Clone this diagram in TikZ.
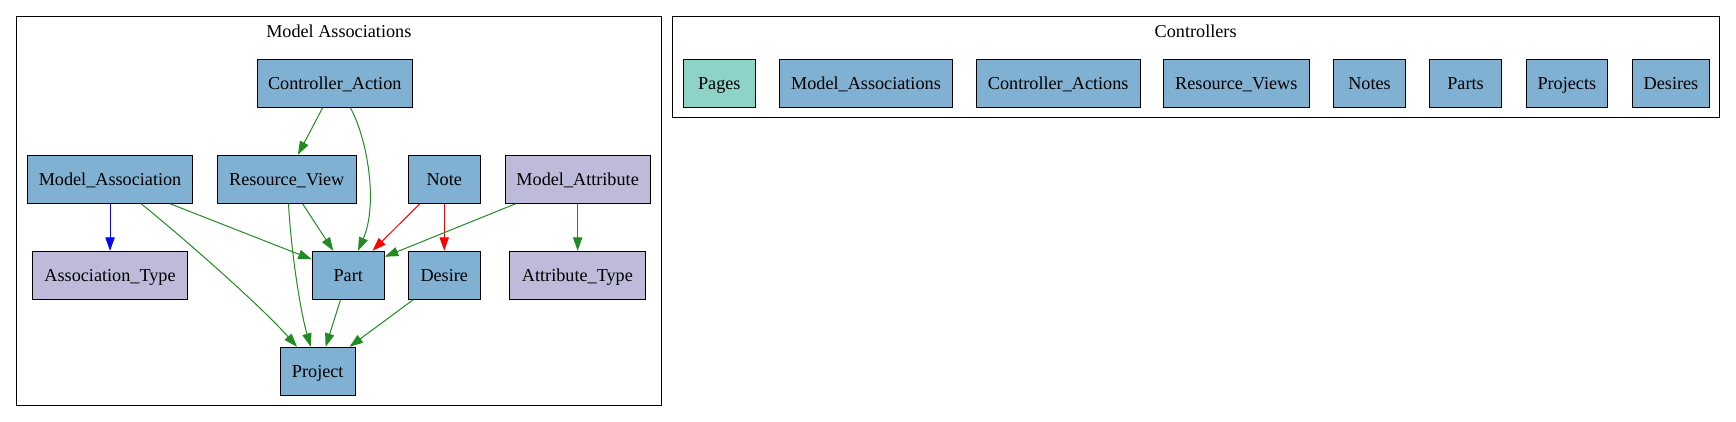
\documentclass[tikz,border=0pt]{standalone}
\usepackage{fontspec}
\setmainfont{Liberation Serif}
\usetikzlibrary{arrows.meta}
\definecolor{nblue}{HTML}{80B1D3}
\definecolor{nlav}{HTML}{BEBADA}
\definecolor{nteal}{HTML}{8DD3C7}
\definecolor{egreen}{HTML}{228B22}
\begin{document}
\begin{tikzpicture}[x=1pt,y=-1pt,
  lbl/.style={inner sep=0pt, text height=16pt, text depth=4pt, font=\fontsize{18.2}{22}\selectfont},
  box/.style={lbl, draw=black, line width=1pt, minimum height=48pt, anchor=center},
  bl/.style={box, fill=nblue},
  lv/.style={box, fill=nlav},
  tl/.style={box, fill=nteal},
  cluster/.style={draw=black, line width=1pt, inner sep=0pt},
  edge/.style={line width=1pt, -{Triangle[length=13.5pt,width=9.3pt]}},
  ge/.style={edge, draw=egreen},
  re/.style={edge, draw=red},
  be/.style={edge, draw=blue}]
\useasboundingbox (0,0) rectangle (1736,421);
\fill[white] (0,0) rectangle (1736,421);

% clusters
\node[cluster, minimum width=644.4pt, minimum height=388.4pt] (c1) at (338.8,210.8) {};
\node[lbl] (c1t) at (338.8,31.7) {Model Associations};
\node[cluster, minimum width=1047.3pt, minimum height=101pt] (c2) at (1195.65,67.1) {};
\node[lbl] (c2t) at (1195.65,31.7) {Controllers};

% model associations nodes
\node[bl, minimum width=155pt] (ca) at (334.75,83.3) {Controller\_Action};
\node[bl, minimum width=165pt] (ma) at (110.05,179.3) {Model\_Association};
\node[bl, minimum width=138.5pt] (rv) at (286.75,179.3) {Resource\_View};
\node[bl, minimum width=72pt] (note) at (444.25,179.3) {Note};
\node[lv, minimum width=145pt] (mattr) at (577.65,179.3) {Model\_Attribute};
\node[lv, minimum width=154.5pt] (at) at (110.05,275.3) {Association\_Type};
\node[bl, minimum width=72pt] (part) at (348.25,275.3) {Part};
\node[bl, minimum width=72pt] (desire) at (444.25,275.3) {Desire};
\node[lv, minimum width=136pt] (attrt) at (577.4,275.3) {Attribute\_Type};
\node[bl, minimum width=75pt] (proj) at (317.75,371.3) {Project};

% controllers nodes
\node[tl, minimum width=72pt] (pages) at (719.3,83.3) {Pages};
\node[bl, minimum width=173.4pt] (mas) at (866,83.3) {Model\_Associations};
\node[bl, minimum width=163.7pt] (cas) at (1058.2,83.3) {Controller\_Actions};
\node[bl, minimum width=146pt] (rvs) at (1236.3,83.3) {Resource\_Views};
\node[bl, minimum width=72.4pt] (notes) at (1369.5,83.3) {Notes};
\node[bl, minimum width=72.4pt] (parts) at (1465.5,83.3) {Parts};
\node[bl, minimum width=81pt] (projs) at (1566.8,83.3) {Projects};
\node[bl, minimum width=77.4pt] (desires) at (1671,83.3) {Desires};

% edges
\draw[ge] ([xshift=-12.15pt]ca.south) -- ([xshift=11.15pt]rv.north);
\draw[ge] ([xshift=15.65pt]ca.south) .. controls (368,140) and (378,205) .. ([xshift=9.75pt]part.north);
\draw[be] (ma.south) -- (at.north);
\draw[ge] ([xshift=60.15pt]ma.south) -- ([yshift=16pt]part.west);
\draw[ge] ([xshift=31.15pt]ma.south) .. controls (180,235) and (260,305) .. ([xshift=-20.75pt]proj.north);
\draw[ge] ([xshift=15.85pt]rv.south) -- ([xshift=-14.95pt]part.north);
\draw[ge] ([xshift=1.75pt]rv.south) .. controls (291,250) and (300,310) .. ([xshift=-7.05pt]proj.north);
\draw[re] ([xshift=-24.35pt]note.south) -- ([xshift=24.25pt]part.north);
\draw[re] (note.south) -- (desire.north);
\draw[ge] ([xshift=-62.15pt]mattr.south) -- ([yshift=18.6pt]part.east);
\draw[ge] (mattr.south) -- (mattr.south |- attrt.north);
\draw[ge] ([xshift=-7.75pt]part.south) -- ([xshift=7.85pt]proj.north);
\draw[ge] ([xshift=-31.15pt]desire.south) -- ([xshift=31.75pt]proj.north);
\end{tikzpicture}
\end{document}
